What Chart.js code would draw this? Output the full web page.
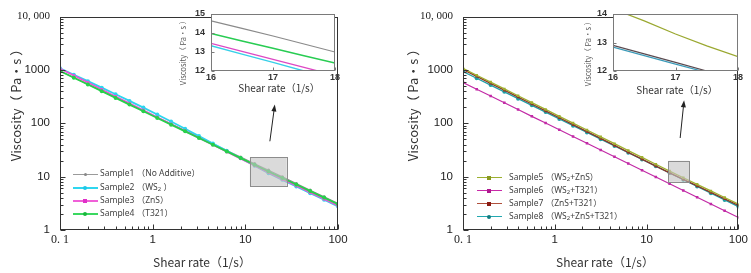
<!DOCTYPE html>
<html>
<head>
<meta charset="utf-8">
<script src="https://cdn.jsdelivr.net/npm/chart.js@4.4.1/dist/chart.umd.min.js"></script>
<style>
  body { margin: 0; background: #fff; }
  #wrap { position: relative; width: 751px; height: 273px; overflow: hidden; background: #fff; }
  canvas { position: absolute; }
  #mainL { left: 0; top: 0; }
  #mainR { left: 376px; top: 0; }
  #insetL { left: 170px; top: 0; }
  #insetR { left: 570px; top: 0; }
  .row { position: absolute; height: 12px; white-space: nowrap; font: 8.5px "Noto Sans", "Noto Sans CJK SC", sans-serif; color: #444; }
  .row .ln { position: absolute; left: 0; top: 5px; width: 25px; height: 0; border-top: 2px solid; }
  .row .mk { position: absolute; left: 10px; top: 4px; width: 4px; height: 4px; }
  .row .tx { position: absolute; top: -1px; line-height: 12px; }
  sub { font-size: 6px; vertical-align: -1px; }
</style>
</head>
<body>
<div id="wrap">
  <canvas id="mainL" width="376" height="273"></canvas>
  <canvas id="mainR" width="375" height="273"></canvas>
  <canvas id="insetL" width="176" height="100"></canvas>
  <canvas id="insetR" width="181" height="100"></canvas>

  <div class="row" style="left:73px;top:168px"><div class="ln" style="border-color:#9a9a9a;border-top-width:1px;top:6px"></div><div class="mk" style="background:#888;border-radius:50%;left:11px;width:3px;height:3px;top:5px"></div><div class="tx" style="left:27px">Sample1 （No Additive）</div></div>
  <div class="row" style="left:73px;top:182px"><div class="ln" style="border-color:#2fd6ef"></div><div class="mk" style="background:#1ec8e8;border-radius:50%"></div><div class="tx" style="left:27px">Sample2 （WS<sub>2</sub> ）</div></div>
  <div class="row" style="left:73px;top:195px"><div class="ln" style="border-color:#f060d8"></div><div class="mk" style="background:#e030c8"></div><div class="tx" style="left:27px">Sample3 （ZnS）</div></div>
  <div class="row" style="left:73px;top:208px"><div class="ln" style="border-color:#3ad860"></div><div class="mk" style="background:#18b83c;border-radius:50%"></div><div class="tx" style="left:27px">Sample4 （T321）</div></div>

  <div class="row" style="left:477px;top:172px"><div class="ln" style="border-color:#9cb030;border-top-width:1.5px"></div><div class="mk" style="background:#8a9a20"></div><div class="tx" style="left:32px">Sample5 （WS<sub>2</sub>+ZnS）</div></div>
  <div class="row" style="left:477px;top:185px"><div class="ln" style="border-color:#c82aa8;border-top-width:1.5px"></div><div class="mk" style="background:#b01890"></div><div class="tx" style="left:32px">Sample6 （WS<sub>2</sub>+T321）</div></div>
  <div class="row" style="left:477px;top:198px"><div class="ln" style="border-color:#b0503c;border-top-width:1.5px"></div><div class="mk" style="background:#8a1c14"></div><div class="tx" style="left:32px">Sample7 （ZnS+T321）</div></div>
  <div class="row" style="left:477px;top:211px"><div class="ln" style="border-color:#22a8b0;border-top-width:1.5px"></div><div class="mk" style="background:#137c80;border-radius:50%"></div><div class="tx" style="left:32px">Sample8 （WS<sub>2</sub>+ZnS+T321）</div></div>
</div>

<script>
// shear rate (1/s) and viscosity (Pa·s)
const shearRate = [0.1, 0.141, 0.2, 0.282, 0.398, 0.562, 0.794, 1.12, 1.58, 2.24, 3.16, 4.47, 6.31, 8.91, 12.6, 17.8, 25.1, 35.5, 50.1, 70.8, 100];

const sample1 = [959, 721, 542, 406, 305, 230, 173, 130, 97.3, 73.1, 55.0, 41.3, 31.0, 23.3, 17.5, 13.2, 9.9, 7.43, 5.57, 4.19, 3.15];
const sample2 = [1079, 813, 617, 466, 351, 263, 197, 146, 108, 79.1, 57.5, 41.9, 30.4, 22.1, 16.0, 11.6, 8.71, 6.53, 4.90, 3.68, 2.77];
const sample3 = [1059, 785, 582, 432, 320, 237, 176, 130, 96.8, 71.8, 53.2, 39.4, 29.2, 21.7, 16.1, 11.9, 8.95, 6.73, 5.05, 3.79, 2.85];
const sample4 = [951, 713, 533, 400, 299, 224, 168, 126, 94.4, 70.6, 53.0, 39.7, 29.7, 22.3, 16.7, 12.5, 9.42, 7.11, 5.36, 4.05, 3.05];

const sample5 = [1069, 796, 592, 441, 328, 244, 182, 135, 101, 74.8, 55.7, 41.5, 30.8, 23.0, 17.1, 12.7, 9.55, 7.18, 5.40, 4.06, 3.05];
const sample6 = [579, 434, 324, 242, 181, 135, 101, 75.7, 56.5, 42.3, 31.6, 23.6, 17.7, 13.2, 9.86, 7.38, 5.52, 4.12, 3.08, 2.30, 1.72];
const sample7 = [1021, 759, 562, 418, 310, 230, 171, 127, 94.4, 70.0, 52.0, 38.6, 28.6, 21.3, 15.8, 11.75, 8.87, 6.71, 5.07, 3.84, 2.90];
const sample8 = [935, 698, 521, 389, 290, 217, 162, 121, 90.4, 67.5, 50.4, 37.7, 28.1, 21.0, 15.7, 11.7, 8.75, 6.56, 4.91, 3.67, 2.75];

// zoomed insets, 16-18 1/s
const insetRate = [16, 16.5, 17, 17.5, 18];
const inset1 = [14.64, 14.24, 13.84, 13.42, 13.0];
const inset2 = [13.33, 12.89, 12.45, 12.0, 11.55];
const inset3 = [13.45, 13.03, 12.61, 12.19, 11.77];
const inset4 = [13.98, 13.58, 13.2, 12.8, 12.42];
const inset5 = [14.18, 13.76, 13.3, 12.88, 12.5];
const inset7 = [12.9, 12.6, 12.3, 12.0, 11.7];
const inset8 = [12.84, 12.54, 12.24, 11.95, 11.65];

// tick labels
const xTickValues = [0.1, 1, 10, 100];
const xTickLabels = ['0. 1', '1', '10', '100'];
const yTickValues = [1, 10, 100, 1000, 10000];
const yTickLabels = ['1', '10', '100', '1000', '10, 000'];

const SANS = 'Liberation Sans';
const CJK = '"Noto Sans CJK SC", "Noto Sans", sans-serif';

// frame, inward ticks, zoom box, arrow and axis titles
const decor = {
  id: 'decor',
  beforeDatasetsDraw(chart, args, o) {
    if (!o.white) return;
    const a = chart.chartArea, ctx = chart.ctx;
    ctx.save();
    ctx.fillStyle = '#fff';
    ctx.fillRect(a.left, a.top, a.width, a.height);
    ctx.restore();
  },
  afterDraw(chart, args, o) {
    const { ctx, chartArea: a, scales: { x, y } } = chart;
    ctx.save();
    if (o.rect) {
      const r = o.rect;
      const l = x.getPixelForValue(r.x0), rr = x.getPixelForValue(r.x1);
      const t = y.getPixelForValue(r.y1), b = y.getPixelForValue(r.y0);
      ctx.fillStyle = 'rgba(195,195,195,0.62)';
      ctx.fillRect(l, t, rr - l, b - t);
      ctx.strokeStyle = '#8c8c8c';
      ctx.lineWidth = 1;
      ctx.strokeRect(Math.round(l) + 0.5, Math.round(t) + 0.5, Math.round(rr - l), Math.round(b - t));
    }
    if (o.arrow) {
      const w = o.arrow;
      const x0 = x.getPixelForValue(w.x0), y0 = y.getPixelForValue(w.y0);
      const x1 = x.getPixelForValue(w.x1), y1 = y.getPixelForValue(w.y1);
      const ang = Math.atan2(y1 - y0, x1 - x0);
      ctx.strokeStyle = '#222';
      ctx.fillStyle = '#222';
      ctx.lineWidth = 1;
      ctx.beginPath();
      ctx.moveTo(x0, y0);
      ctx.lineTo(x1 - 5 * Math.cos(ang), y1 - 5 * Math.sin(ang));
      ctx.stroke();
      ctx.beginPath();
      ctx.moveTo(x1, y1);
      ctx.lineTo(x1 - 7 * Math.cos(ang) + 2.5 * Math.sin(ang), y1 - 7 * Math.sin(ang) - 2.5 * Math.cos(ang));
      ctx.lineTo(x1 - 7 * Math.cos(ang) - 2.5 * Math.sin(ang), y1 - 7 * Math.sin(ang) + 2.5 * Math.cos(ang));
      ctx.closePath();
      ctx.fill();
    }
    ctx.strokeStyle = o.frame || '#333';
    ctx.lineWidth = 1;
    const L = Math.round(a.left) + 0.5, T = Math.round(a.top) + 0.5;
    const R = Math.round(a.right) - 0.5, B = Math.round(a.bottom) - 0.5;
    ctx.strokeRect(L, T, R - L, B - T);
    ctx.beginPath();
    if (o.logTicks) {
      for (let d = -1; d <= 4; d++) {
        for (let m = 1; m <= 9; m++) {
          const v = m * Math.pow(10, d);
          const len = m === 1 ? 5 : 3;
          if (v >= x.min && v <= x.max) {
            const px = Math.round(x.getPixelForValue(v)) + 0.5;
            ctx.moveTo(px, B); ctx.lineTo(px, B - len);
          }
          if (v >= y.min && v <= y.max) {
            const py = Math.round(y.getPixelForValue(v)) + 0.5;
            ctx.moveTo(L, py); ctx.lineTo(L + len, py);
          }
        }
      }
    } else {
      x.ticks.forEach(t => {
        const px = Math.round(x.getPixelForValue(t.value)) + 0.5;
        ctx.moveTo(px, B); ctx.lineTo(px, B - 3);
      });
      y.ticks.forEach(t => {
        const py = Math.round(y.getPixelForValue(t.value)) + 0.5;
        ctx.moveTo(L, py); ctx.lineTo(L + 3, py);
      });
    }
    ctx.stroke();
    (o.titles || []).forEach(t => {
      ctx.save();
      ctx.translate(t.x, t.y);
      if (t.rot) ctx.rotate(-Math.PI / 2);
      ctx.font = t.font;
      ctx.fillStyle = t.color || '#333';
      ctx.textAlign = 'center';
      ctx.textBaseline = 'middle';
      ctx.fillText(t.text, 0, 0);
      ctx.restore();
    });
    ctx.restore();
  }
};
Chart.register(decor);

function series(label, xs, values, color, style, radius, width, order) {
  return {
    label: label,
    data: xs.map((v, i) => ({ x: v, y: values[i] })),
    borderColor: color,
    backgroundColor: color,
    pointStyle: style,
    pointRadius: radius,
    pointBorderWidth: 0,
    borderWidth: width,
    tension: 0,
    order: order
  };
}

function mainOptions(yWidth, rightPad, topPad, deco) {
  return {
    responsive: false,
    animation: false,
    layout: { padding: { left: 0, right: rightPad, top: topPad, bottom: 0 } },
    plugins: { legend: { display: false }, tooltip: { enabled: false }, decor: deco },
    scales: {
      x: {
        type: 'logarithmic', min: 0.1, max: 100,
        afterBuildTicks: s => { s.ticks = xTickValues.map(v => ({ value: v })); },
        afterFit: s => { s.height = 43; },
        grid: { display: false, drawTicks: false },
        border: { display: false },
        ticks: {
          autoSkip: false, maxRotation: 0, padding: 3, color: '#222',
          callback: v => xTickLabels[xTickValues.indexOf(v)],
          font: c => (c.tick && c.tick.value === 0.1) ? { family: 'Liberation Serif', size: 12 } : { family: SANS, size: 11.5 }
        }
      },
      y: {
        type: 'logarithmic', min: 1, max: 10000,
        afterBuildTicks: s => { s.ticks = yTickValues.map(v => ({ value: v })); },
        afterFit: s => { s.width = yWidth; },
        grid: { display: false, drawTicks: false },
        border: { display: false },
        ticks: {
          autoSkip: false, padding: 10, color: '#222',
          callback: v => yTickLabels[yTickValues.indexOf(v)],
          font: c => (c.tick && c.tick.value === 10000) ? { family: 'Liberation Serif', size: 11 } : { family: SANS, size: 11.5 }
        }
      }
    }
  };
}

function insetOptions(yMax, yWidth, rightPad, deco) {
  return {
    responsive: false,
    animation: false,
    layout: { padding: { left: 0, right: rightPad, top: 14, bottom: 0 } },
    plugins: { legend: { display: false }, tooltip: { enabled: false }, decor: deco },
    elements: { point: { radius: 0 } },
    scales: {
      x: {
        type: 'linear', min: 16, max: 18,
        afterFit: s => { s.height = 29; },
        grid: { display: false, drawTicks: false },
        border: { display: false },
        ticks: { stepSize: 1, padding: 1, color: '#333', font: { family: SANS, size: 9, weight: 'bold' } }
      },
      y: {
        type: 'linear', min: 12, max: yMax,
        afterFit: s => { s.width = yWidth; },
        grid: { display: false, drawTicks: false },
        border: { display: false },
        ticks: { stepSize: 1, padding: 6, color: '#333', font: { family: SANS, size: 9, weight: 'bold' } }
      }
    }
  };
}

new Chart(document.getElementById('mainL'), {
  type: 'line',
  data: {
    datasets: [
      series('Sample1', shearRate, sample1, '#8e8e8e', 'circle', 1.6, 1.2, 3),
      series('Sample2', shearRate, sample2, '#2dd4ee', 'circle', 2, 1.8, 2),
      series('Sample3', shearRate, sample3, '#ee50d6', 'rect', 2, 1.6, 1),
      series('Sample4', shearRate, sample4, '#26d04a', 'circle', 2, 1.8, 0)
    ]
  },
  options: mainOptions(60, 38, 7, {
    logTicks: true,
    rect: { x0: 11.2, x1: 28, y0: 6.7, y1: 23 },
    arrow: { x0: 18.4, y0: 46, x1: 20.8, y1: 225 },
    titles: [
      { text: 'Viscosity（ Pa·s ）', x: 16, y: 102, rot: true, font: '13px ' + CJK, color: '#333' },
      { text: 'Shear rate（1/s）', x: 202, y: 262, font: '12px ' + CJK, color: '#333' }
    ]
  })
});

new Chart(document.getElementById('mainR'), {
  type: 'line',
  data: {
    datasets: [
      series('Sample5', shearRate, sample5, '#a0b030', 'rect', 1.8, 1.3, 0),
      series('Sample6', shearRate, sample6, '#c22aa6', 'rect', 1.8, 1.2, 3),
      series('Sample7', shearRate, sample7, '#8e3428', 'rect', 1.8, 1.3, 1),
      series('Sample8', shearRate, sample8, '#1f9fa6', 'circle', 2, 1.3, 2)
    ]
  },
  options: mainOptions(87, 9, 8, {
    logTicks: true,
    rect: { x0: 17.3, x1: 29, y0: 8.0, y1: 19.8 },
    arrow: { x0: 23.2, y0: 53, x1: 25.6, y1: 270 },
    titles: [
      { text: 'Viscosity（ Pa·s ）', x: 37, y: 102, rot: true, font: '13px ' + CJK, color: '#333' },
      { text: 'Shear rate（1/s）', x: 229, y: 262, font: '12px ' + CJK, color: '#333' }
    ]
  })
});

new Chart(document.getElementById('insetL'), {
  type: 'line',
  data: {
    datasets: [
      series('Sample1', insetRate, inset1, '#8a8a8a', 'circle', 0, 1.2, 3),
      series('Sample2', insetRate, inset2, '#36cfe8', 'circle', 0, 1.3, 2),
      series('Sample3', insetRate, inset3, '#dd48c4', 'circle', 0, 1.3, 1),
      series('Sample4', insetRate, inset4, '#28cc52', 'circle', 0, 1.5, 0)
    ]
  },
  options: insetOptions(15, 41, 11, {
    white: true,
    frame: '#7a7a7a',
    titles: [
      { text: 'Viscosity（ Pa·s ）', x: 13, y: 51, rot: true, font: '7.5px ' + CJK, color: '#555' },
      { text: 'Shear rate（1/s）', x: 109, y: 88, font: '10px ' + CJK, color: '#333' }
    ]
  })
});

new Chart(document.getElementById('insetR'), {
  type: 'line',
  data: {
    datasets: [
      series('Sample5', insetRate, inset5, '#9aa830', 'circle', 0, 1.2, 0),
      series('Sample7', insetRate, inset7, '#5a4a50', 'circle', 0, 1.2, 1),
      series('Sample8', insetRate, inset8, '#3a9ab8', 'circle', 0, 1.2, 2)
    ]
  },
  options: insetOptions(14, 43, 13, {
    white: true,
    frame: '#7a7a7a',
    titles: [
      { text: 'Viscosity（ Pa·s ）', x: 18, y: 52, rot: true, font: '7.5px ' + CJK, color: '#555' },
      { text: 'Shear rate（1/s）', x: 107, y: 90, font: '10px ' + CJK, color: '#333' }
    ]
  })
});
</script>
</body>
</html>
